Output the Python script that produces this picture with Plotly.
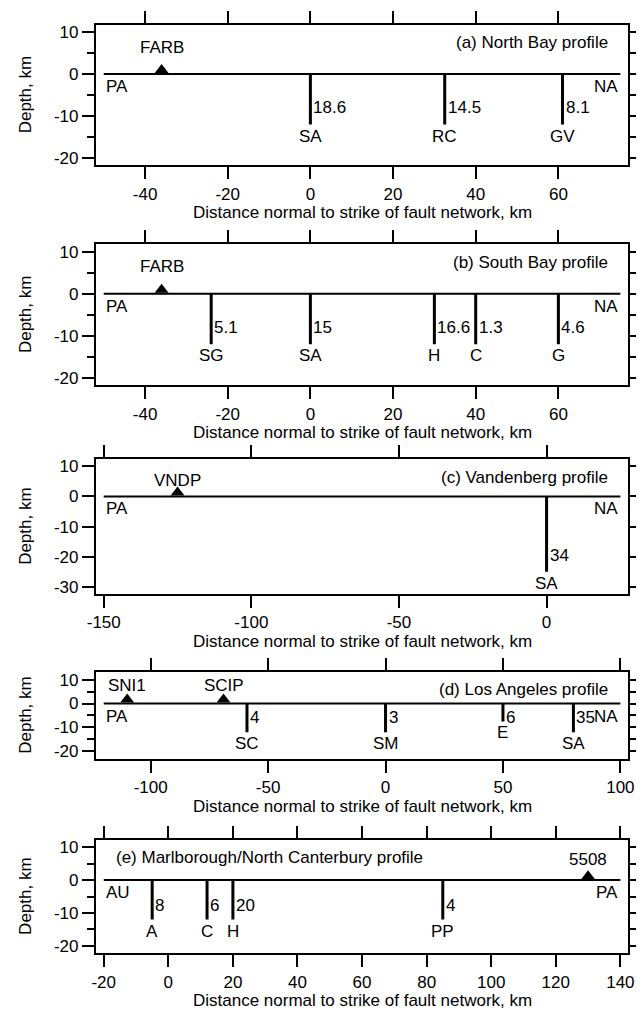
import plotly.graph_objects as go

# ---------------- data ----------------
# (a) North Bay profile
a_title = "(a) North Bay profile"
a_profile_x = [-50, 75]
a_plates = ["PA", "NA"]
a_fault_names = ["SA", "RC", "GV"]
a_fault_x = [0, 32.5, 61]
a_fault_depth = [12, 12, 12]
a_slip = [18.6, 14.5, 8.1]
a_station_names = ["FARB"]
a_station_x = [-36]

# (b) South Bay profile
b_title = "(b) South Bay profile"
b_profile_x = [-50, 75]
b_plates = ["PA", "NA"]
b_fault_names = ["SG", "SA", "H", "C", "G"]
b_fault_x = [-24, 0, 30, 40, 60]
b_fault_depth = [12, 12, 12, 12, 12]
b_slip = [5.1, 15, 16.6, 1.3, 4.6]
b_station_names = ["FARB"]
b_station_x = [-36]

# (c) Vandenberg profile
c_title = "(c) Vandenberg profile"
c_profile_x = [-150, 25]
c_plates = ["PA", "NA"]
c_fault_names = ["SA"]
c_fault_x = [0]
c_fault_depth = [25]
c_slip = [34]
c_station_names = ["VNDP"]
c_station_x = [-125]

# (d) Los Angeles profile
d_title = "(d) Los Angeles profile"
d_profile_x = [-120, 100]
d_plates = ["PA", "NA"]
d_fault_names = ["SC", "SM", "E", "SA"]
d_fault_x = [-59, 0, 50, 80]
d_fault_depth = [12, 12, 7.5, 12]
d_slip = [4, 3, 6, 35]
d_station_names = ["SNI1", "SCIP"]
d_station_x = [-110, -69]

# (e) Marlborough/North Canterbury profile
e_title = "(e) Marlborough/North Canterbury profile"
e_profile_x = [-20, 140]
e_plates = ["AU", "PA"]
e_fault_names = ["A", "C", "H", "PP"]
e_fault_x = [-5, 12, 20, 85]
e_fault_depth = [12, 12, 12, 12]
e_slip = [8, 6, 20, 4]
e_station_names = ["5508"]
e_station_x = [130]

x_title = "Distance normal to strike of fault network, km"
y_title = "Depth, km"

# ---------------- layout / style ----------------
W, H = 642, 1015
FONT = "Liberation Sans, Arial, Helvetica, sans-serif"
FS = 17
BOX_L, BOX_R = 89, 634
PAD = 8

panels = [
    dict(title=a_title, px=a_profile_x, plates=a_plates, fn=a_fault_names, fx=a_fault_x,
         fd=a_fault_depth, slip=a_slip, sn=a_station_names, sx=a_station_x,
         top=22.7, bot=164.3, yt=[-20, -10, 0, 10], ymin=-20, ymax=10, minor=5,
         xd=20, title_side="right", st_shift=26, slip_px=34),
    dict(title=b_title, px=b_profile_x, plates=b_plates, fn=b_fault_names, fx=b_fault_x,
         fd=b_fault_depth, slip=b_slip, sn=b_station_names, sx=b_station_x,
         top=243.5, bot=385.1, yt=[-20, -10, 0, 10], ymin=-20, ymax=10, minor=5,
         xd=20, title_side="right", st_shift=27, slip_px=34),
    dict(title=c_title, px=c_profile_x, plates=c_plates, fn=c_fault_names, fx=c_fault_x,
         fd=c_fault_depth, slip=c_slip, sn=c_station_names, sx=c_station_x,
         top=459.3, bot=595.0, yt=[-30, -20, -10, 0, 10], ymin=-30, ymax=10, minor=None,
         xd=50, title_side="right", st_shift=16, slip_px=59),
    dict(title=d_title, px=d_profile_x, plates=d_plates, fn=d_fault_names, fx=d_fault_x,
         fd=d_fault_depth, slip=d_slip, sn=d_station_names, sx=d_station_x,
         top=673.3, bot=760.7, yt=[-20, -10, 0, 10], ymin=-20, ymax=10, minor=5,
         xd=50, title_side="right", st_shift=18, slip_px=14),
    dict(title=e_title, px=e_profile_x, plates=e_plates, fn=e_fault_names, fx=e_fault_x,
         fd=e_fault_depth, slip=e_slip, sn=e_station_names, sx=e_station_x,
         top=842.0, bot=956.0, yt=[-20, -10, 0, 10], ymin=-20, ymax=10, minor=5,
         xd=20, title_side="left", st_shift=21, slip_px=25),
]


def aid(letter, n):
    return letter if n == 1 else f"{letter}{n}"


def lab(v):
    return f"{v:g}"  # plain hyphen-minus like the original


fig = go.Figure()
layout = dict(width=W, height=H, margin=dict(l=0, r=0, t=0, b=0), autosize=False,
              paper_bgcolor="white", plot_bgcolor="white", showlegend=False,
              font=dict(family=FONT, size=FS, color="black"))
annotations = []
MSIZE = 12

for i, p in enumerate(panels, start=1):
    xa, ya, yr = aid("x", i), aid("y", i), aid("y", i + 5)
    box_w = BOX_R - BOX_L
    box_h = p["bot"] - p["top"]
    x0, x1 = p["px"]
    ppu = (box_w - 2 * PAD) / (x1 - x0)
    xr = [x0 - PAD / ppu, x1 + PAD / ppu]
    ypad = (box_h / ppu - (p["ymax"] - p["ymin"])) / 2
    yrng = [p["ymin"] - ypad, p["ymax"] + ypad]
    ydom = [1 - p["bot"] / H, 1 - p["top"] / H]
    xdom = [BOX_L / W, BOX_R / W]

    xt = []
    v = (int(xr[0] // p["xd"]) + 1) * p["xd"]
    while v <= xr[1]:
        xt.append(v)
        v += p["xd"]

    layout[f"xaxis{i}"] = dict(
        domain=xdom, range=xr, anchor=ya, showline=True, linewidth=2, linecolor="black",
        mirror="ticks", ticks="outside", ticklen=12, tickwidth=2, tickcolor="black",
        tickvals=xt, ticktext=[lab(t) for t in xt], showgrid=False, zeroline=False,
        tickfont=dict(size=FS, family=FONT, color="black"))
    yax = dict(
        domain=ydom, range=yrng, anchor=xa, showline=True, linewidth=2, linecolor="black",
        mirror=True, ticks="outside", ticklen=12, tickwidth=2, tickcolor="black",
        tickvals=p["yt"], ticktext=[lab(t) for t in p["yt"]], showgrid=False,
        zeroline=False, tickfont=dict(size=FS, family=FONT, color="black"))
    if p["minor"]:
        yax["minor"] = dict(ticks="outside", ticklen=7, tickwidth=2, tickcolor="black",
                            tick0=0, dtick=p["minor"], showgrid=False)
    layout[f"yaxis{i}"] = yax
    layout[f"yaxis{i + 5}"] = dict(
        overlaying=ya, anchor=xa, side="right", range=yrng, ticks="outside", ticklen=7,
        tickwidth=2, tickcolor="black", tick0=0, dtick=(p["minor"] or 10),
        showticklabels=False, showline=False, showgrid=False, zeroline=False)
    fig.add_trace(go.Scatter(x=[None], y=[None], xaxis=xa, yaxis=yr, showlegend=False,
                             hoverinfo="skip"))

    # profile line
    fig.add_trace(go.Scatter(x=p["px"], y=[0, 0], mode="lines", xaxis=xa, yaxis=ya,
                             line=dict(color="black", width=2), hoverinfo="skip"))
    # faults
    fxs, fys = [], []
    for fx, fd in zip(p["fx"], p["fd"]):
        fxs += [fx, fx, None]
        fys += [0, -fd, None]
    fig.add_trace(go.Scatter(x=fxs, y=fys, mode="lines", xaxis=xa, yaxis=ya,
                             line=dict(color="black", width=3), hoverinfo="skip"))
    # stations (triangle sits on the profile line)
    y_off = (MSIZE / 4 + 1) / ppu
    fig.add_trace(go.Scatter(x=p["sx"], y=[y_off] * len(p["sx"]), mode="markers",
                             xaxis=xa, yaxis=ya, hoverinfo="skip",
                             marker=dict(symbol="triangle-up", size=MSIZE, color="black")))
    for name, sx in zip(p["sn"], p["sx"]):
        annotations.append(dict(x=sx, y=0, xref=xa, yref=ya, text=name, showarrow=False,
                                xanchor="center", yanchor="middle", yshift=p["st_shift"]))
    # fault names and slip rates
    for name, fx, fd, s in zip(p["fn"], p["fx"], p["fd"], p["slip"]):
        annotations.append(dict(x=fx, y=-fd, xref=xa, yref=ya, text=name, showarrow=False,
                                xanchor="center", yanchor="top", yshift=0))
        annotations.append(dict(x=fx, y=0, xref=xa, yref=ya, text=f"{s:g}",
                                showarrow=False, xanchor="left", yanchor="middle",
                                xshift=1, yshift=-p["slip_px"]))
    # plates
    annotations.append(dict(x=x0, y=0, xref=xa, yref=ya, text=p["plates"][0],
                            showarrow=False, xanchor="left", yanchor="top", yshift=-1))
    annotations.append(dict(x=x1, y=0, xref=xa, yref=ya, text=p["plates"][1],
                            showarrow=False, xanchor="right", yanchor="top", yshift=-1))
    # panel title
    if p["title_side"] == "right":
        annotations.append(dict(x=1, y=1, xref=f"{xa} domain", yref=f"{ya} domain",
                                text=p["title"], showarrow=False, xanchor="right",
                                yanchor="middle", xshift=-18, yshift=-18))
    else:
        annotations.append(dict(x=0, y=1, xref=f"{xa} domain", yref=f"{ya} domain",
                                text=p["title"], showarrow=False, xanchor="left",
                                yanchor="middle", xshift=18, yshift=-18))
    # axis titles
    annotations.append(dict(x=16.7 / W, y=1 - (p["top"] + p["bot"]) / 2 / H, xref="paper",
                            yref="paper", text=y_title, textangle=-90, showarrow=False,
                            xanchor="center", yanchor="middle"))
    annotations.append(dict(x=(BOX_L + BOX_R) / 2 / W, y=1 - (p["bot"] + 47.3) / H,
                            xref="paper", yref="paper", text=x_title, showarrow=False,
                            xanchor="center", yanchor="middle"))

layout["annotations"] = annotations
fig.update_layout(**layout)
fig.write_html(
    "out.html",
    config={"displayModeBar": False},
    post_script="document.body.style.margin='0px';document.body.style.overflow='hidden';",
)
